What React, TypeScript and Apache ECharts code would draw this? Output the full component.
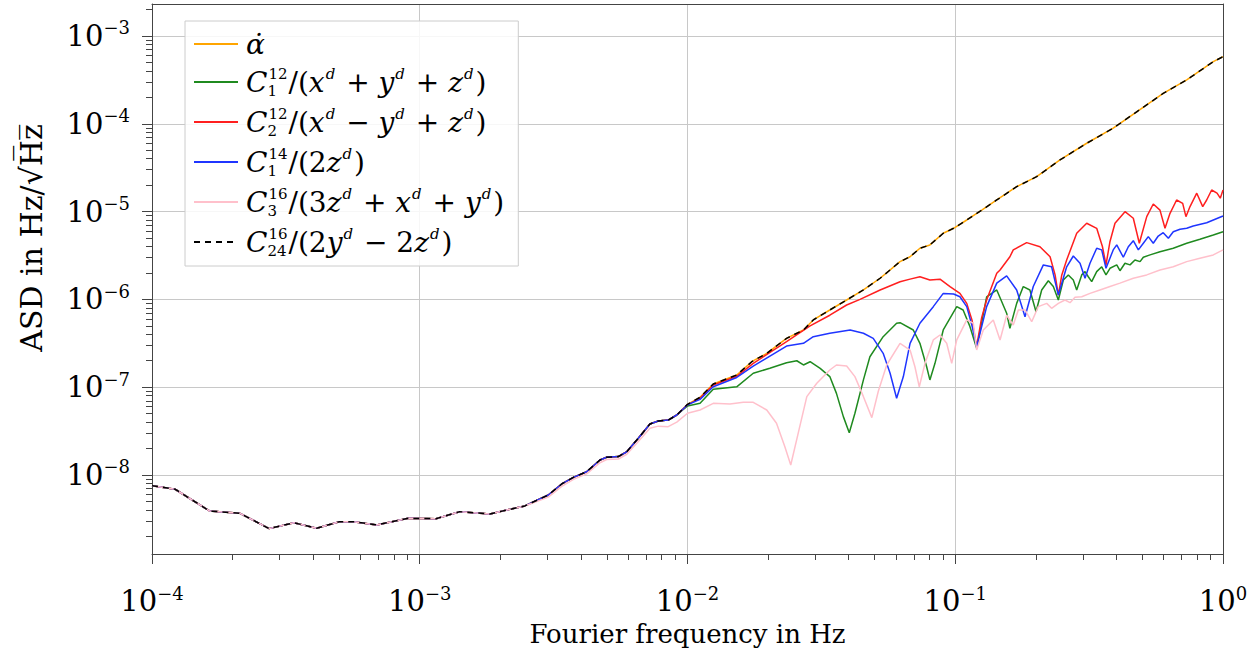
import React, { useEffect, useRef } from 'react';
import * as echarts from 'echarts';

const FONT = '"DejaVu Serif", serif';

const X_MIN = 1e-4;
const X_MAX = 1;
const Y_MIN = 1.259e-9;
const Y_MAX = 2.313e-3;
const xTickValues = [1e-4, 1e-3, 1e-2, 1e-1, 1];
const yTickValues = [1e-8, 1e-7, 1e-6, 1e-5, 1e-4, 1e-3];

// shared low-frequency part (all curves coincide)
const sharedLow = [
  [1.0e-4, 7.55e-9], [1.22e-4, 6.88e-9], [1.64e-4, 3.89e-9], [2.13e-4, 3.66e-9],
  [2.74e-4, 2.45e-9], [3.39e-4, 2.86e-9], [4.12e-4, 2.47e-9], [5.01e-4, 2.94e-9],
  [5.65e-4, 2.94e-9], [6.9e-4, 2.7e-9], [9.06e-4, 3.21e-9], [1.15e-3, 3.18e-9],
  [1.41e-3, 3.82e-9], [1.83e-3, 3.6e-9], [2.17e-3, 4.06e-9], [2.47e-3, 4.44e-9],
];
const sharedMid = [
  [3.02e-3, 5.91e-9], [3.39e-3, 7.9e-9], [3.75e-3, 9.4e-9], [4.2e-3, 1.09e-8],
  [4.71e-3, 1.48e-8], [4.99e-3, 1.59e-8], [5.52e-3, 1.62e-8], [5.93e-3, 1.84e-8],
  [6.55e-3, 2.62e-8], [7.24e-3, 3.81e-8], [7.78e-3, 4.12e-8], [8.47e-3, 4.22e-8],
  [9.12e-3, 4.82e-8],
];
const pinkMid = [
  [3.02e-3, 5.6e-9], [3.39e-3, 7.4e-9], [3.75e-3, 8.9e-9], [4.2e-3, 1.03e-8],
  [4.71e-3, 1.38e-8], [4.99e-3, 1.5e-8], [5.52e-3, 1.52e-8], [5.93e-3, 1.72e-8],
  [6.55e-3, 2.4e-8], [7.24e-3, 3.4e-8], [7.78e-3, 3.6e-8],
];
const alphaTail = [
  [1.0e-2, 6.38e-8], [1.114e-2, 7.67e-8], [1.248e-2, 1.087e-7], [1.527e-2, 1.377e-7],
  [1.738e-2, 1.95e-7], [1.977e-2, 2.43e-7], [2.344e-2, 3.6e-7], [2.71e-2, 4.48e-7],
  [2.95e-2, 5.83e-7], [3.4e-2, 7.57e-7], [3.93e-2, 9.84e-7], [4.54e-2, 1.28e-6],
  [5.24e-2, 1.74e-6], [6.22e-2, 2.69e-6], [6.78e-2, 3.06e-6], [7.38e-2, 3.82e-6],
  [8.04e-2, 4.17e-6], [9.02e-2, 5.66e-6], [0.0986, 6.45e-6], [0.1104, 8.02e-6],
  [0.1256, 1.04e-5], [0.1429, 1.355e-5], [0.1696, 1.92e-5], [0.2014, 2.5e-5],
  [0.2461, 3.87e-5], [0.3097, 6.0e-5], [0.389, 8.9e-5], [0.476, 1.37e-4],
  [0.598, 2.22e-4], [0.732, 3.16e-4], [0.92, 5.1e-4], [1.0, 5.81e-4],
];
const greenTail = [
  [1.0e-2, 6.1e-8], [1.114e-2, 6.56e-8], [1.248e-2, 9.46e-8], [1.527e-2, 1.01e-7],
  [1.76e-2, 1.44e-7], [2.03e-2, 1.64e-7], [2.344e-2, 1.9e-7], [2.56e-2, 2.0e-7],
  [2.71e-2, 1.79e-7], [2.87e-2, 1.95e-7], [3.13e-2, 1.64e-7], [3.4e-2, 1.32e-7],
  [3.6e-2, 8.5e-8], [3.82e-2, 4.62e-8], [4.02e-2, 3.03e-8], [4.22e-2, 5.05e-8],
  [4.54e-2, 1.21e-7], [4.8e-2, 2.22e-7], [5.38e-2, 3.76e-7], [6.04e-2, 5.35e-7],
  [6.22e-2, 5.43e-7], [6.97e-2, 4.48e-7], [7.38e-2, 3.16e-7], [7.82e-2, 1.71e-7],
  [8.04e-2, 1.21e-7], [8.4e-2, 1.87e-7], [9.02e-2, 4.48e-7], [0.1013, 8.26e-7],
  [0.107, 7.57e-7], [0.1135, 4.89e-7], [0.1202, 2.77e-7], [0.131, 1.07e-6],
  [0.1429, 1.28e-6], [0.1556, 6.95e-7], [0.16, 4.69e-7], [0.1696, 9.0e-7],
  [0.1795, 1.4e-6], [0.19, 1.28e-6], [0.2003, 7.24e-7], [0.2103, 1.28e-6],
  [0.2227, 1.63e-6], [0.2324, 1.4e-6], [0.2427, 9.84e-7], [0.2533, 1.66e-6],
  [0.2644, 1.9e-6], [0.276, 1.66e-6], [0.2842, 1.28e-6], [0.2967, 1.9e-6],
  [0.3053, 2.07e-6], [0.314, 1.81e-6], [0.3233, 1.59e-6], [0.3375, 2.07e-6],
  [0.3524, 2.35e-6], [0.3656, 1.9e-6], [0.3784, 2.26e-6], [0.401, 2.47e-6],
  [0.4123, 2.12e-6], [0.4305, 2.58e-6], [0.4495, 2.47e-6], [0.469, 2.81e-6],
  [0.49, 2.69e-6], [0.504, 3.02e-6], [0.534, 3.21e-6], [0.5816, 3.49e-6],
  [0.652, 3.82e-6], [0.732, 4.36e-6], [0.82, 4.84e-6], [0.92, 5.41e-6], [1.0, 5.9e-6],
];
const redTail = [
  [1.0e-2, 6.3e-8], [1.114e-2, 7.5e-8], [1.248e-2, 1.06e-7], [1.527e-2, 1.33e-7],
  [1.76e-2, 1.87e-7], [2.344e-2, 3.3e-7], [2.87e-2, 4.98e-7], [3.4e-2, 6.6e-7],
  [3.93e-2, 8.63e-7], [4.41e-2, 1.0e-6], [5.24e-2, 1.28e-6], [6.22e-2, 1.59e-6],
  [6.78e-2, 1.7e-6], [7.38e-2, 1.81e-6], [8.04e-2, 1.66e-6], [8.77e-2, 1.7e-6],
  [9.56e-2, 1.4e-6], [0.1041, 1.17e-6], [0.1104, 9.0e-7], [0.1155, 5.8e-7],
  [0.1202, 2.89e-7], [0.1255, 6.2e-7], [0.131, 9.84e-7], [0.1429, 1.98e-6],
  [0.147, 2.16e-6], [0.16, 3.06e-6], [0.1647, 3.66e-6], [0.1848, 4.43e-6],
  [0.2072, 3.98e-6], [0.226, 3.06e-6], [0.236, 1.9e-6], [0.2427, 1.12e-6],
  [0.25, 1.9e-6], [0.2607, 2.81e-6], [0.2842, 5.66e-6], [0.3097, 7.36e-6],
  [0.3375, 6.45e-6], [0.3545, 4.0e-6], [0.3656, 2.47e-6], [0.378, 4.5e-6],
  [0.395, 7.36e-6], [0.4305, 9.97e-6], [0.4624, 8.39e-6], [0.4869, 4.36e-6],
  [0.519, 8.75e-6], [0.549, 1.22e-5], [0.5816, 1.04e-5], [0.6073, 6.45e-6],
  [0.634, 9.56e-6], [0.671, 1.355e-5], [0.707, 1.24e-5], [0.727, 8.75e-6],
  [0.753, 1.14e-5], [0.798, 1.62e-5], [0.84, 1.14e-5], [0.869, 1.355e-5],
  [0.907, 1.76e-5], [0.95, 1.62e-5], [0.977, 1.42e-5], [1.0, 1.76e-5],
];
const blueTail = [
  [1.0e-2, 6.3e-8], [1.114e-2, 7.27e-8], [1.248e-2, 1.01e-7], [1.527e-2, 1.29e-7],
  [1.76e-2, 1.74e-7], [2.344e-2, 2.94e-7], [2.71e-2, 3.16e-7], [2.95e-2, 3.76e-7],
  [3.4e-2, 4.11e-7], [4.05e-2, 4.48e-7], [4.54e-2, 4.11e-7], [4.94e-2, 3.6e-7],
  [5.38e-2, 2.43e-7], [5.71e-2, 1.44e-7], [6.04e-2, 7.47e-8], [6.4e-2, 1.32e-7],
  [6.78e-2, 3.16e-7], [7.38e-2, 5.35e-7], [8.28e-2, 8.26e-7], [9.02e-2, 1.17e-6],
  [9.86e-2, 1.15e-6], [0.1041, 1.07e-6], [0.1104, 8.26e-7], [0.1155, 5.0e-7],
  [0.1202, 2.89e-7], [0.131, 8.26e-7], [0.1429, 1.53e-6], [0.1556, 1.85e-6],
  [0.1696, 1.28e-6], [0.1822, 6.35e-7], [0.1956, 1.4e-6], [0.2133, 2.47e-6],
  [0.229, 2.35e-6], [0.2427, 1.12e-6], [0.2607, 2.35e-6], [0.276, 3.12e-6],
  [0.2924, 2.58e-6], [0.3053, 1.74e-6], [0.3186, 2.58e-6], [0.3375, 3.82e-6],
  [0.3524, 3.66e-6], [0.3656, 2.26e-6], [0.389, 3.66e-6], [0.401, 4.17e-6],
  [0.4243, 3.02e-6], [0.443, 3.98e-6], [0.4624, 4.66e-6], [0.4829, 3.66e-6],
  [0.504, 4.36e-6], [0.526, 5.18e-6], [0.549, 4.36e-6], [0.573, 5.27e-6],
  [0.598, 5.75e-6], [0.625, 4.97e-6], [0.652, 5.9e-6], [0.691, 6.29e-6],
  [0.732, 6.45e-6], [0.774, 6.85e-6], [0.869, 7.47e-6], [1.0, 8.9e-6],
];
const pinkTail = [
  [8.47e-3, 3.55e-8], [9.12e-3, 4.0e-8], [1.0e-2, 5.05e-8], [1.114e-2, 5.5e-8],
  [1.248e-2, 6.55e-8], [1.441e-2, 6.45e-8], [1.616e-2, 6.73e-8], [1.76e-2, 6.73e-8],
  [1.977e-2, 5.5e-8], [2.15e-2, 3.88e-8], [2.31e-2, 2.1e-8], [2.43e-2, 1.3e-8],
  [2.59e-2, 2.98e-8], [2.79e-2, 7.8e-8], [3.04e-2, 1.107e-7], [3.4e-2, 1.57e-7],
  [3.6e-2, 1.79e-7], [3.93e-2, 1.74e-7], [4.22e-2, 1.32e-7], [4.54e-2, 7.8e-8],
  [4.88e-2, 4.5e-8], [5.16e-2, 9.0e-8], [5.55e-2, 1.8e-7], [6.22e-2, 3.16e-7],
  [6.78e-2, 2.65e-7], [7.07e-2, 1.71e-7], [7.34e-2, 1.01e-7], [7.71e-2, 1.87e-7],
  [8.28e-2, 3.45e-7], [8.77e-2, 3.93e-7], [9.29e-2, 3.16e-7], [9.7e-2, 1.87e-7],
  [0.1013, 3.45e-7], [0.1104, 5.83e-7], [0.1168, 5.35e-7], [0.1202, 2.65e-7],
  [0.1273, 4.48e-7], [0.1387, 5.83e-7], [0.147, 3.45e-7], [0.1556, 6.6e-7],
  [0.1647, 5.11e-7], [0.172, 7.57e-7], [0.1822, 7.57e-7], [0.193, 5.57e-7],
  [0.2042, 8.26e-7], [0.2196, 9.0e-7], [0.229, 7.92e-7], [0.2427, 9.0e-7],
  [0.257, 9.84e-7], [0.2683, 9.17e-7], [0.28, 1.057e-6], [0.2967, 1.07e-6],
  [0.3186, 1.17e-6], [0.347, 1.28e-6], [0.3784, 1.4e-6], [0.4123, 1.53e-6],
  [0.4624, 1.74e-6], [0.519, 1.9e-6], [0.5816, 2.16e-6], [0.652, 2.35e-6],
  [0.732, 2.69e-6], [0.82, 2.94e-6], [0.92, 3.21e-6], [1.0, 3.66e-6],
];

const seriesNames = [
  'α̇',
  'C₁¹²/(xᵈ + yᵈ + zᵈ)',
  'C₂¹²/(xᵈ − yᵈ + zᵈ)',
  'C₁¹⁴/(2zᵈ)',
  'C₃¹⁶/(3zᵈ + xᵈ + yᵈ)',
  'C₂₄¹⁶/(2yᵈ − 2zᵈ)',
];
const legendRich: Record<string, string> = {
  [seriesNames[0]]: '{i|α̇}',
  [seriesNames[1]]: '{i|C}{sb|1}{sp|12}{r|/(}{i|x}{si|d}{r| + }{i|y}{si|d}{r| + }{i|z}{si|d}{r|)}',
  [seriesNames[2]]: '{i|C}{sb|2}{sp|12}{r|/(}{i|x}{si|d}{r| − }{i|y}{si|d}{r| + }{i|z}{si|d}{r|)}',
  [seriesNames[3]]: '{i|C}{sb|1}{sp|14}{r|/(2}{i|z}{si|d}{r|)}',
  [seriesNames[4]]: '{i|C}{sb|3}{sp|16}{r|/(3}{i|z}{si|d}{r| + }{i|x}{si|d}{r| + }{i|y}{si|d}{r|)}',
  [seriesNames[5]]: '{i|C}{sb|24}{sp|16}{r|/(2}{i|y}{si|d}{r| − 2}{i|z}{si|d}{r|)}',
};

const AXIS_COLOR = '#444444';
const GRID_COLOR = '#c8c8c8';

const tickRich = {
  b: { fontFamily: FONT, fontSize: 29, color: '#000', lineHeight: 34 },
  e: { fontFamily: FONT, fontSize: 18, color: '#000', verticalAlign: 'top', lineHeight: 18 },
};
const tickFormatter = (v: number) => {
  const e = Math.round(Math.log10(v));
  return e === 0 ? '{b|10}{e|0}' : `{b|10}{e|−${-e}}`;
};

export default function App() {
  const ref = useRef<HTMLDivElement>(null);
  useEffect(() => {
    const chart = echarts.init(ref.current!, null, { renderer: 'svg' });
    const lineSeries = (name: string, data: number[][], color: string, extra: any = {}) => ({
      name,
      type: 'line',
      data,
      symbol: 'none',
      showSymbol: false,
      lineStyle: { color, width: 1.5, ...(extra.lineStyle || {}) },
      itemStyle: { color, opacity: 0 },
      z: extra.z ?? 2,
    });
    const option: any = {
      animation: false,
      backgroundColor: '#ffffff',
      grid: { left: 152, right: 31, top: 4, bottom: 95, containLabel: false, outerBoundsMode: 'none' },
      legend: {
        show: true,
        orient: 'vertical',
        left: 185,
        top: 21,
        backgroundColor: 'rgba(255,255,255,0.85)',
        borderColor: '#cccccc',
        borderWidth: 1,
        borderRadius: 0,
        padding: [9, 14, 8, 8],
        itemWidth: 44,
        itemHeight: 14,
        itemGap: 8,
        selectedMode: false,
        itemStyle: { opacity: 0 },
        data: seriesNames,
        formatter: (name: string) => legendRich[name],
        textStyle: {
          color: '#000',
          padding: [0, 0, 0, 3],
          rich: {
            i: { fontFamily: FONT, fontStyle: 'italic', fontSize: 28, lineHeight: 32, color: '#000' },
            r: { fontFamily: FONT, fontSize: 28, lineHeight: 32, color: '#000' },
            sp: { fontFamily: FONT, fontSize: 15, lineHeight: 16, verticalAlign: 'top', color: '#000', padding: [0, 1, 0, 1] },
            si: { fontFamily: FONT, fontStyle: 'italic', fontSize: 15, lineHeight: 16, verticalAlign: 'top', color: '#000', padding: [0, 2, 0, 1] },
            sb: { fontFamily: FONT, fontSize: 15, lineHeight: 10, verticalAlign: 'bottom', width: 0, color: '#000' },
          },
        },
      },
      xAxis: [
        {
          type: 'log',
          logBase: 10,
          min: X_MIN,
          max: X_MAX,
          name: 'Fourier frequency in Hz',
          nameLocation: 'middle',
          nameGap: 67,
          nameTextStyle: { fontFamily: FONT, fontSize: 26, lineHeight: 26, color: '#000' },
          axisLine: { show: true, onZero: false, lineStyle: { color: AXIS_COLOR, width: 1 } },
          axisTick: { show: true, inside: false, length: 10, lineStyle: { color: AXIS_COLOR }, customValues: xTickValues },
          minorTick: { show: true, splitNumber: 9, length: 6, lineStyle: { color: AXIS_COLOR } },
          splitLine: { show: true, lineStyle: { color: GRID_COLOR, width: 1 } },
          axisLabel: { margin: 30, formatter: tickFormatter, rich: tickRich, customValues: xTickValues },
        },
        {
          type: 'log',
          logBase: 10,
          min: X_MIN,
          max: X_MAX,
          position: 'top',
          axisLine: { show: true, onZero: false, lineStyle: { color: AXIS_COLOR, width: 1 } },
          axisTick: { show: false },
          axisLabel: { show: false },
          splitLine: { show: false },
        },
      ],
      yAxis: [
        {
          type: 'log',
          logBase: 10,
          min: Y_MIN,
          max: Y_MAX,
          axisLine: { show: true, onZero: false, lineStyle: { color: AXIS_COLOR, width: 1 } },
          axisTick: { show: true, inside: false, length: 10, lineStyle: { color: AXIS_COLOR }, customValues: yTickValues },
          minorTick: { show: true, splitNumber: 9, length: 6, lineStyle: { color: AXIS_COLOR } },
          splitLine: { show: true, lineStyle: { color: GRID_COLOR, width: 1 } },
          axisLabel: { margin: 22, formatter: tickFormatter, rich: tickRich, customValues: yTickValues },
        },
        {
          type: 'log',
          logBase: 10,
          min: Y_MIN,
          max: Y_MAX,
          position: 'right',
          axisLine: { show: true, onZero: false, lineStyle: { color: AXIS_COLOR, width: 1 } },
          axisTick: { show: false },
          axisLabel: { show: false },
          splitLine: { show: false },
        },
      ],
      graphic: [
        {
          type: 'text',
          x: 31,
          y: 238,
          rotation: Math.PI / 2,
          style: {
            text: 'ASD in Hz/√H̅z̅',
            fontFamily: FONT,
            fontSize: 30,
            fill: '#000',
            align: 'center',
            verticalAlign: 'middle',
          },
        },
      ],
      series: [
        lineSeries(seriesNames[0], [...sharedLow, ...sharedMid, ...alphaTail], '#ffa500'),
        lineSeries(seriesNames[1], [...sharedLow, ...sharedMid, ...greenTail], '#1f8a1f'),
        lineSeries(seriesNames[2], [...sharedLow, ...sharedMid, ...redTail], '#ff1f1f'),
        lineSeries(seriesNames[3], [...sharedLow, ...sharedMid, ...blueTail], '#1f35ff'),
        lineSeries(seriesNames[4], [...sharedLow, ...pinkMid, ...pinkTail], '#ffc0cb'),
        lineSeries(seriesNames[5], [...sharedLow, ...sharedMid, ...alphaTail], '#000000', {
          lineStyle: { type: [6, 5] },
          z: 3,
        }),
      ],
    };
    chart.setOption(option);
    return () => chart.dispose();
  }, []);
  return (
    <div
      ref={ref}
      style={{ position: 'fixed', left: 0, top: 0, width: 1254, height: 649, background: '#fff' }}
    />
  );
}
